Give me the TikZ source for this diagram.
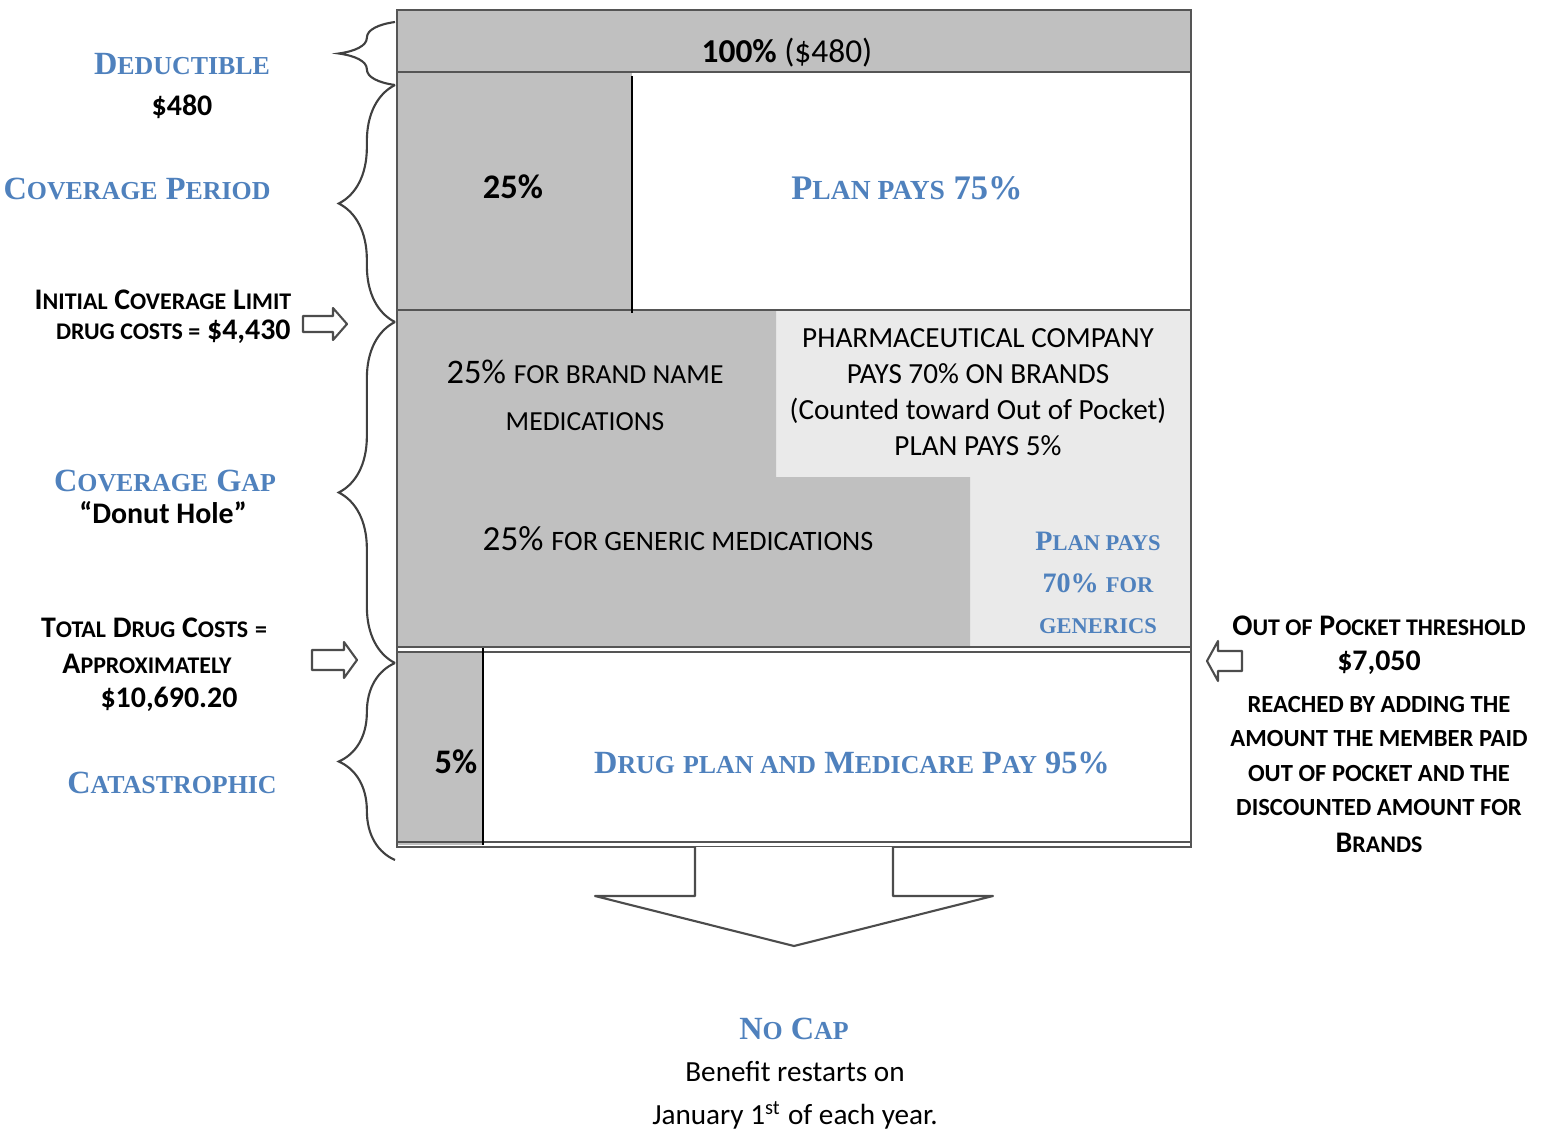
\documentclass[tikz,border=0pt]{standalone}
\usepackage{fontspec}
\setmainfont{Carlito}
\newfontfamily\headfont{Liberation Serif}
\usetikzlibrary{decorations.pathreplacing}
\definecolor{hdblue}{RGB}{79,129,189}
\definecolor{dkgray}{RGB}{192,192,192}
\definecolor{ltgray}{RGB}{234,234,234}
\definecolor{rim}{RGB}{85,85,85}
% fake small caps: big first letter, the rest scaled down
\newcommand{\smc}[2]{#1\scalebox{0.8}{#2}}
\tikzset{
  head/.style={font=\headfont\bfseries\fontsize{9.2}{11}\selectfont, text=hdblue, align=center},
  smallhead/.style={font=\headfont\bfseries\fontsize{8}{11.7}\selectfont, text=hdblue, align=center},
  lbl/.style={font=\bfseries\fontsize{8.5}{10}\selectfont, align=center},
  pctlbl/.style={font=\bfseries\fontsize{9.8}{11}\selectfont},
  note/.style={font=\bfseries\fontsize{7}{9.8}\selectfont, align=center},
  txt/.style={font=\fontsize{8.3}{10.2}\selectfont, align=center},
  band/.style={draw=rim, line width=0.6pt},
  split/.style={draw=black, line width=0.7pt},
  bracel/.style={draw=black!75, line width=0.6pt, decorate, decoration={brace, amplitude=16pt}},
  blockarr/.style={draw=black!70, fill=white, line width=0.6pt, line join=round}
}
\begin{document}
\begin{tikzpicture}[x=0.01cm, y=-0.01cm]
  \useasboundingbox (0,0) rectangle (1544,1133);
  % deductible band
  \fill[dkgray] (397,10) rectangle (1191,72);
  % coverage period
  \fill[dkgray] (397,72) rectangle (632,310);
  % coverage gap
  \fill[ltgray] (397,310) rectangle (1191,647);
  \fill[dkgray] (397,310) -- (776,310) -- (776,477) -- (970,477) -- (970,647) -- (397,647) -- cycle;
  % catastrophic
  \fill[dkgray] (397,652) rectangle (483,845);
  % outline
  \draw[band] (397,10) rectangle (1191,847);
  \draw[band] (397,72) -- (1191,72) (397,310) -- (1191,310)
    (397,647) -- (1191,647) (397,652) -- (1191,652) (397,842) -- (1191,842);
  \draw[split] (632,76) -- (632,313);
  \draw[split] (483,648) -- (483,845);
  % braces
  \draw[bracel] (395,85) -- (395,22);
  \draw[bracel] (395,322) -- (395,85);
  \draw[bracel] (395,663) -- (395,322);
  \draw[bracel] (395,860) -- (395,663);
  % block arrows
  \draw[blockarr] (303,316) -- (333,316) -- (333,308) -- (347,324) -- (333,340) -- (333,332) -- (303,332) -- cycle;
  \draw[blockarr] (312,650) -- (344,650) -- (344,642) -- (357,660) -- (344,678) -- (344,670) -- (312,670) -- cycle;
  \draw[blockarr] (1242,651) -- (1218,651) -- (1218,641) -- (1207,661) -- (1218,681) -- (1218,671) -- (1242,671) -- cycle;
  % down arrow
  \draw[blockarr] (695,847) -- (695,896) -- (595,896) -- (794,946) -- (993,896) -- (893,896) -- (893,847);

  % left labels
  \node[head] (ded) at (182,64) {\smc{D}{EDUCTIBLE}};
  \node[lbl] (dedamt) at (182,107) {\$480};
  \node[head] (covper) at (137,189) {\smc{C}{OVERAGE} \smc{P}{ERIOD}};
  \node[lbl] (icl1) at (163,300) {\smc{I}{NITIAL} \smc{C}{OVERAGE} \smc{L}{IMIT}};
  \node[lbl, anchor=east] (icl2) at (303,332) {\scalebox{0.8}{DRUG COSTS =} \$4,430};
  \node[head] (gap) at (165,481) {\smc{C}{OVERAGE} \smc{G}{AP}};
  \node[lbl] (donut) at (163,513) {“Donut Hole”};
  \node[lbl] (tdc1) at (154,628) {\smc{T}{OTAL} \smc{D}{RUG} \smc{C}{OSTS} \scalebox{0.8}{=}};
  \node[lbl] (tdc2) at (147,664) {\smc{A}{PPROXIMATELY}};
  \node[lbl] (tdc3) at (169,699) {\$10,690.20};
  \node[head] (cat) at (172,783) {\smc{C}{ATASTROPHIC}};

  % right labels
  \node[lbl] (oop1) at (1379,626) {\smc{O}{UT OF} \smc{P}{OCKET THRESHOLD}};
  \node[lbl] (oop2) at (1379,663) {\$7,050};
  \node[note] (oop3) at (1379,756) {REACHED BY ADDING THE\\AMOUNT THE MEMBER PAID\\OUT OF POCKET AND THE\\DISCOUNTED AMOUNT FOR};
  \node[lbl] (oop4) at (1379,843) {\smc{B}{RANDS}};

  % inside the bands
  \node[pctlbl, font=\bfseries\fontsize{9.5}{11}\selectfont] (pct100) at (787,53) {100\% \mdseries(\$480)};
  \node[pctlbl] (pct25) at (513,187) {25\%};
  \node[head, font=\headfont\bfseries\fontsize{9.8}{11}\selectfont] (plan75) at (907,188) {\smc{P}{LAN PAYS} 75\%};
  \node[txt, font=\fontsize{9.8}{13.4}\selectfont] (brand) at (585,395) {25\% \scalebox{0.8}{FOR BRAND NAME}\\\scalebox{0.8}{MEDICATIONS}};
  \node[txt] (pharma) at (978,392) {PHARMACEUTICAL COMPANY\\PAYS 70\% ON BRANDS\\(Counted toward Out of Pocket)\\PLAN PAYS 5\%};
  \node[txt, font=\fontsize{10}{12}\selectfont] (generic) at (678,539) {25\% \scalebox{0.8}{FOR GENERIC MEDICATIONS}};
  \node[smallhead] (plan70) at (1098,583) {\smc{P}{LAN PAYS}\\70\% \scalebox{0.8}{FOR}\\\scalebox{0.8}{GENERICS}};
  \node[pctlbl] (pct5) at (456,762) {5\%};
  \node[head] (drug95) at (852,763) {\smc{D}{RUG} \scalebox{0.8}{PLAN AND} \smc{M}{EDICARE} \smc{P}{AY} 95\%};

  % below the arrow
  \node[head] (nocap) at (794,1029) {\smc{N}{O} \smc{C}{AP}};
  \node[txt] (restart) at (795,1072) {Benefit restarts on};
  \node[txt] (jan) at (795,1115) {January 1\textsuperscript{st} of each year.};
\end{tikzpicture}
\end{document}
